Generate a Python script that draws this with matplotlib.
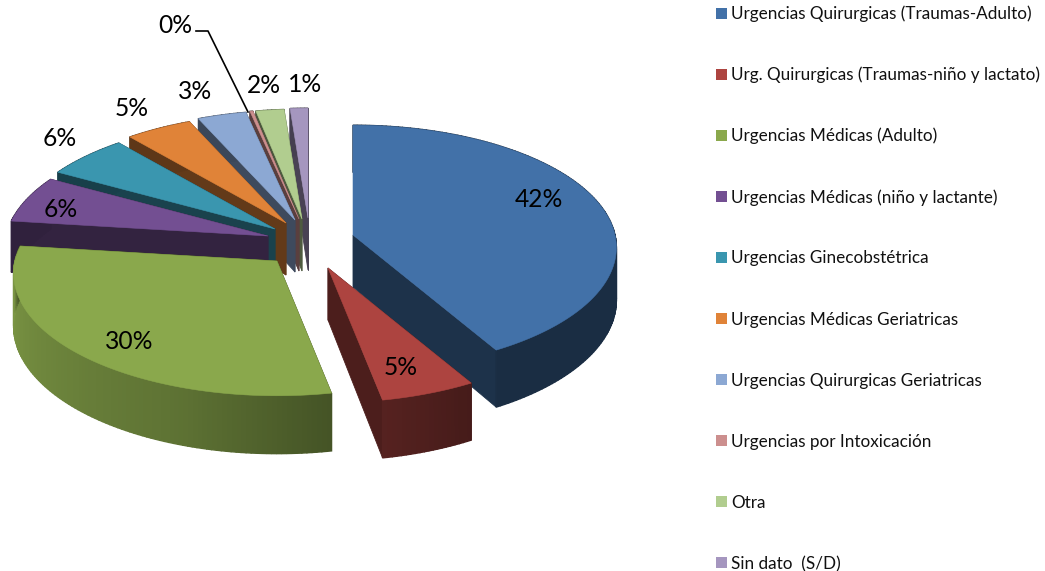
#!/usr/bin/env python3
"""Exploded 3D-look pie of emergency visits by type."""

import numpy as np
import matplotlib
matplotlib.use("Agg")
import matplotlib.pyplot as plt
from matplotlib.colors import to_rgb
from matplotlib.patches import Polygon, Rectangle

plt.rcParams['font.family'] = ['Lato', 'DejaVu Sans']

# Data
categories = [
    "Urgencias Quirurgicas (Traumas-Adulto)",
    "Urg. Quirurgicas (Traumas-niño y lactato)",
    "Urgencias Médicas (Adulto)",
    "Urgencias Médicas (niño y lactante)",
    "Urgencias Ginecobstétrica",
    "Urgencias Médicas Geriatricas",
    "Urgencias Quirurgicas Geriatricas",
    "Urgencias por Intoxicación",
    "Otra",
    "Sin dato  (S/D)",
]
values = [41.7, 5.3, 30, 6.2, 5.7, 4.5, 3.3, 0.2, 1.9, 1.2]
value_labels = ["42%", "5%", "30%", "6%", "6%", "5%", "3%", "0%", "2%", "1%"]

# Style
colors = ["#4271A8", "#AD4440", "#8AA84C", "#734F92", "#3A96AF",
          "#E08338", "#8CA8D3", "#CC8F8E", "#B1CD8F", "#A596BF"]
# where each exploded slice has its tip, in pixels
tips = [(353, 235), (328, 268), (277, 261), (268, 236), (275, 229),
        (286, 223), (295, 220), (299, 219), (302, 219), (308, 218)]
draw_order = [9, 8, 7, 6, 5, 4, 3, 2, 0, 1]
label_pos = [(539, 199.5), (401, 367.5), (129, 341.5), (61, 209.5), (60, 138.5),
             (132, 108.5), (195, 91.5), (175, 25.5), (264, 85.5), (305, 84.5)]
RX, RY, PERSP, DEPTH = 262, 121, 0.102, 52
# side wall brightness against the angle on the rim
shade_deg = [0, 150, 170, 200, 270, 278, 360]
shade_val = [0.40, 0.40, 0.50, 0.68, 0.90, 0.42, 0.42]
WALL_SHADE = 0.44


def rim(tip, theta):
    """Screen position of the rim at theta (clockwise from the top)."""
    f = 1 / (1 + PERSP * np.cos(theta))
    return (tip[0] + RX * np.sin(theta) * f,
            tip[1] - RY * np.cos(theta) * f,
            DEPTH * f)


def draw_slice(ax, tip, color, start, end):
    rgb = to_rgb(color)
    thetas = np.linspace(start, end, max(int(np.degrees(end - start)) + 2, 2))
    xs, ys, ds = rim(tip, thetas)

    # flat walls from the tip out to the rim
    wall_color = tuple(v * WALL_SHADE for v in rgb)
    for i in (0, -1):
        wall = [tip, (xs[i], ys[i]), (xs[i], ys[i] + ds[i]), (tip[0], tip[1] + DEPTH)]
        ax.add_patch(Polygon(wall, closed=True, fc=wall_color, ec=wall_color, lw=0.6))

    # curved wall, one strip per step so the shade can change
    for i in range(len(thetas) - 1):
        strip = [(xs[i], ys[i]), (xs[i + 1], ys[i + 1]),
                 (xs[i + 1], ys[i + 1] + ds[i + 1]), (xs[i], ys[i] + ds[i])]
        b = np.interp(np.degrees((thetas[i] + thetas[i + 1]) / 2), shade_deg, shade_val)
        c = tuple(v * b for v in rgb)
        ax.add_patch(Polygon(strip, closed=True, fc=c, ec=c, lw=1.0))

    top = [tip] + list(zip(xs, ys))
    ax.add_patch(Polygon(top, closed=True, fc=color, ec=color, lw=0.4))


def main():
    fig = plt.figure(figsize=(10.45, 5.71), dpi=100)
    ax = fig.add_axes([0, 0, 1, 1])
    ax.set_xlim(0, 1045)
    ax.set_ylim(571, 0)
    ax.axis("off")

    edges = np.radians(np.cumsum([0] + values) / sum(values) * 360)
    for i in draw_order:
        draw_slice(ax, tips[i], colors[i], edges[i], edges[i + 1])

    for (x, y), text in zip(label_pos, value_labels):
        ax.text(x, y, text, fontsize=17.7, ha="center", va="center", color="black")

    # leader line for the 0% label
    ax.plot([196, 208, 248], [31, 31, 112], color="black", lw=1.2)

    # legend
    for i, name in enumerate(categories):
        y = 13 + i * 61.1
        ax.add_patch(Rectangle((716, y - 5.5), 11, 11, fc=colors[i], ec="none"))
        ax.text(731, y + 1, name, fontsize=12.35, ha="left", va="center", color="#111111")

    fig.savefig("out.png", dpi=100)
    plt.close(fig)


if __name__ == "__main__":
    main()
